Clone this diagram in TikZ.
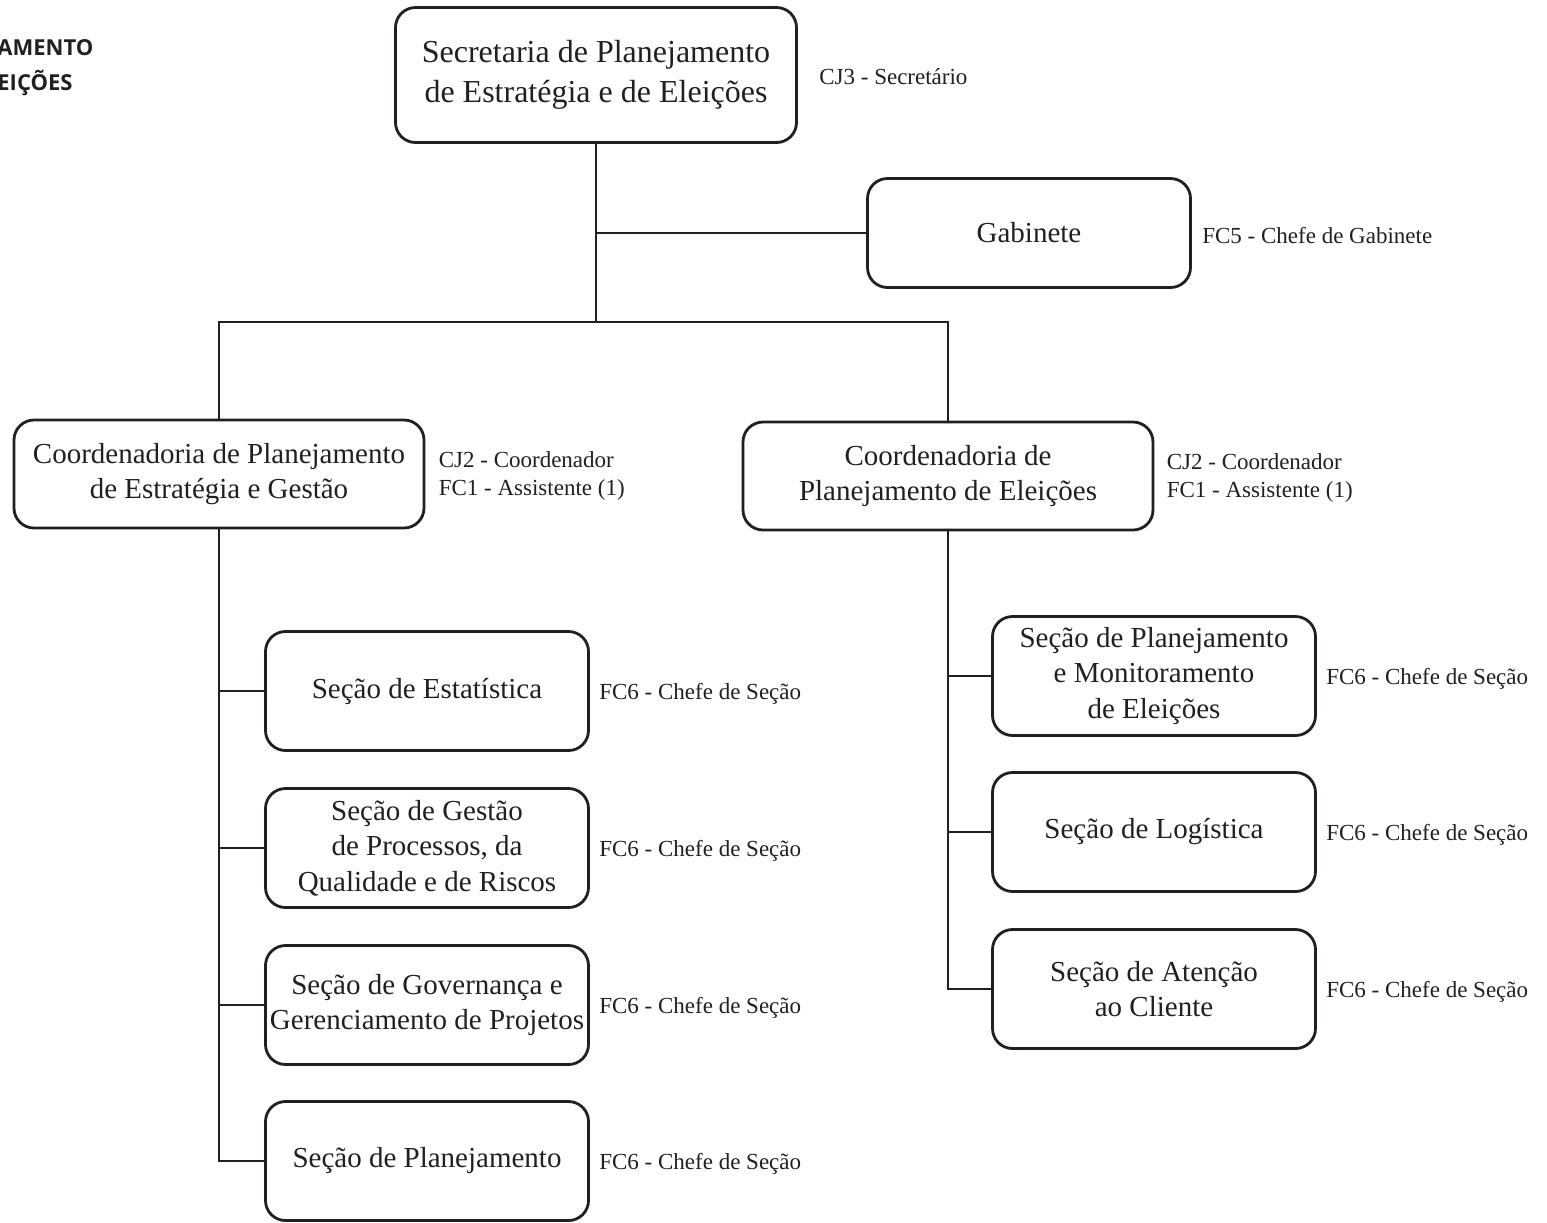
\documentclass[tikz,border=0pt]{standalone}
\usepackage{fontspec}
\setmainfont{Liberation Serif}
\newfontfamily\titlefont{Open Sans}
\definecolor{ink}{HTML}{231F20}

\begin{document}
\begin{tikzpicture}[x=0.5pt,y=-0.5pt,
	unit/.style={draw=ink,line width=1.4pt,rounded corners=10pt,align=center,
		text=ink,inner sep=0pt,font=\fontsize{14.5}{17.8}\selectfont},
	secbox/.style={unit,minimum width=200.5pt,minimum height=67.5pt,
		font=\fontsize{16}{20}\selectfont},
	gabbox/.style={unit,minimum width=161.5pt,minimum height=54.5pt},
	coordbox/.style={unit,minimum width=205pt,minimum height=54pt},
	sectionbox/.style={unit,minimum width=161.5pt,minimum height=59.5pt},
	cargo/.style={anchor=west,align=left,text=ink,inner sep=0pt,
		font=\fontsize{11.5}{14}\selectfont},
	link/.style={draw=ink,line width=1.4pt}]

\useasboundingbox (0,0) rectangle (1547,1222);

% The title, cut at the left edge
\node[anchor=base west,inner sep=0pt,text=ink,font=\titlefont\bfseries\fontsize{11}{16}\selectfont] (titleA) at (-3,55) {AMENTO};
\node[anchor=base west,inner sep=0pt,text=ink,font=\titlefont\bfseries\fontsize{11}{16}\selectfont] (titleB) at (-3,90) {EIÇÕES};

% The top units
\node[secbox] (sec) at (596,75) {Secretaria de Planejamento\\de Estratégia e de Eleições};
\node[gabbox] (gab) at (1029,233) {Gabinete};
\node[coordbox] (cpeg) at (219,474) {Coordenadoria de Planejamento\\de Estratégia e Gestão};
\node[coordbox] (cpe) at (948,476) {Coordenadoria de\\Planejamento de Eleições};

% The sections
\node[sectionbox] (est) at (427,691) {Seção de Estatística};
\node[sectionbox] (gpqr) at (427,848) {Seção de Gestão\\de Processos, da\\Qualidade e de Riscos};
\node[sectionbox] (ggp) at (427,1005) {Seção de Governança e\\Gerenciamento de Projetos};
\node[sectionbox] (plan) at (427,1161) {Seção de Planejamento};

\node[sectionbox] (pme) at (1154,676) {Seção de Planejamento\\e Monitoramento\\de Eleições};
\node[sectionbox] (log) at (1154,832) {Seção de Logística};
\node[sectionbox] (ate) at (1154,989) {Seção de Atenção\\ao Cliente};

% The posts
\node[cargo] (sec-cargo) at ([xshift=10.5pt,yshift=-1pt]sec.east) {CJ3 - Secretário};
\node[cargo] (gab-cargo) at ([xshift=5pt,yshift=-1.5pt]gab.east) {FC5 - Chefe de Gabinete};
\node[cargo] (cpeg-cargo) at ([xshift=6.5pt,yshift=-1pt]cpeg.east) {CJ2 - Coordenador\\FC1 - Assistente (1)};
\node[cargo] (cpe-cargo) at ([xshift=6pt,yshift=-1pt]cpe.east) {CJ2 - Coordenador\\FC1 - Assistente (1)};
\foreach \sect in {est,gpqr,ggp,plan,pme,log,ate}
{
	\node[cargo] (\sect-cargo) at ([xshift=4.5pt,yshift=-1.5pt]\sect.east) {FC6 - Chefe de Seção};
}

% The links
\coordinate (bar) at (597,322);
\draw[link] (sec.south) -- (sec.south |- bar);
\draw[link] (gab.west) -- (gab.west -| sec.south);
\draw[link] (cpeg.north) -- (cpeg.north |- bar) -- (cpe.north |- bar) -- (cpe.north);

\foreach \sect in {est,gpqr,ggp,plan}
	\draw[link] (cpeg.south) |- (\sect.west);
\foreach \sect in {pme,log,ate}
	\draw[link] (cpe.south) |- (\sect.west);

\end{tikzpicture}
\end{document}
